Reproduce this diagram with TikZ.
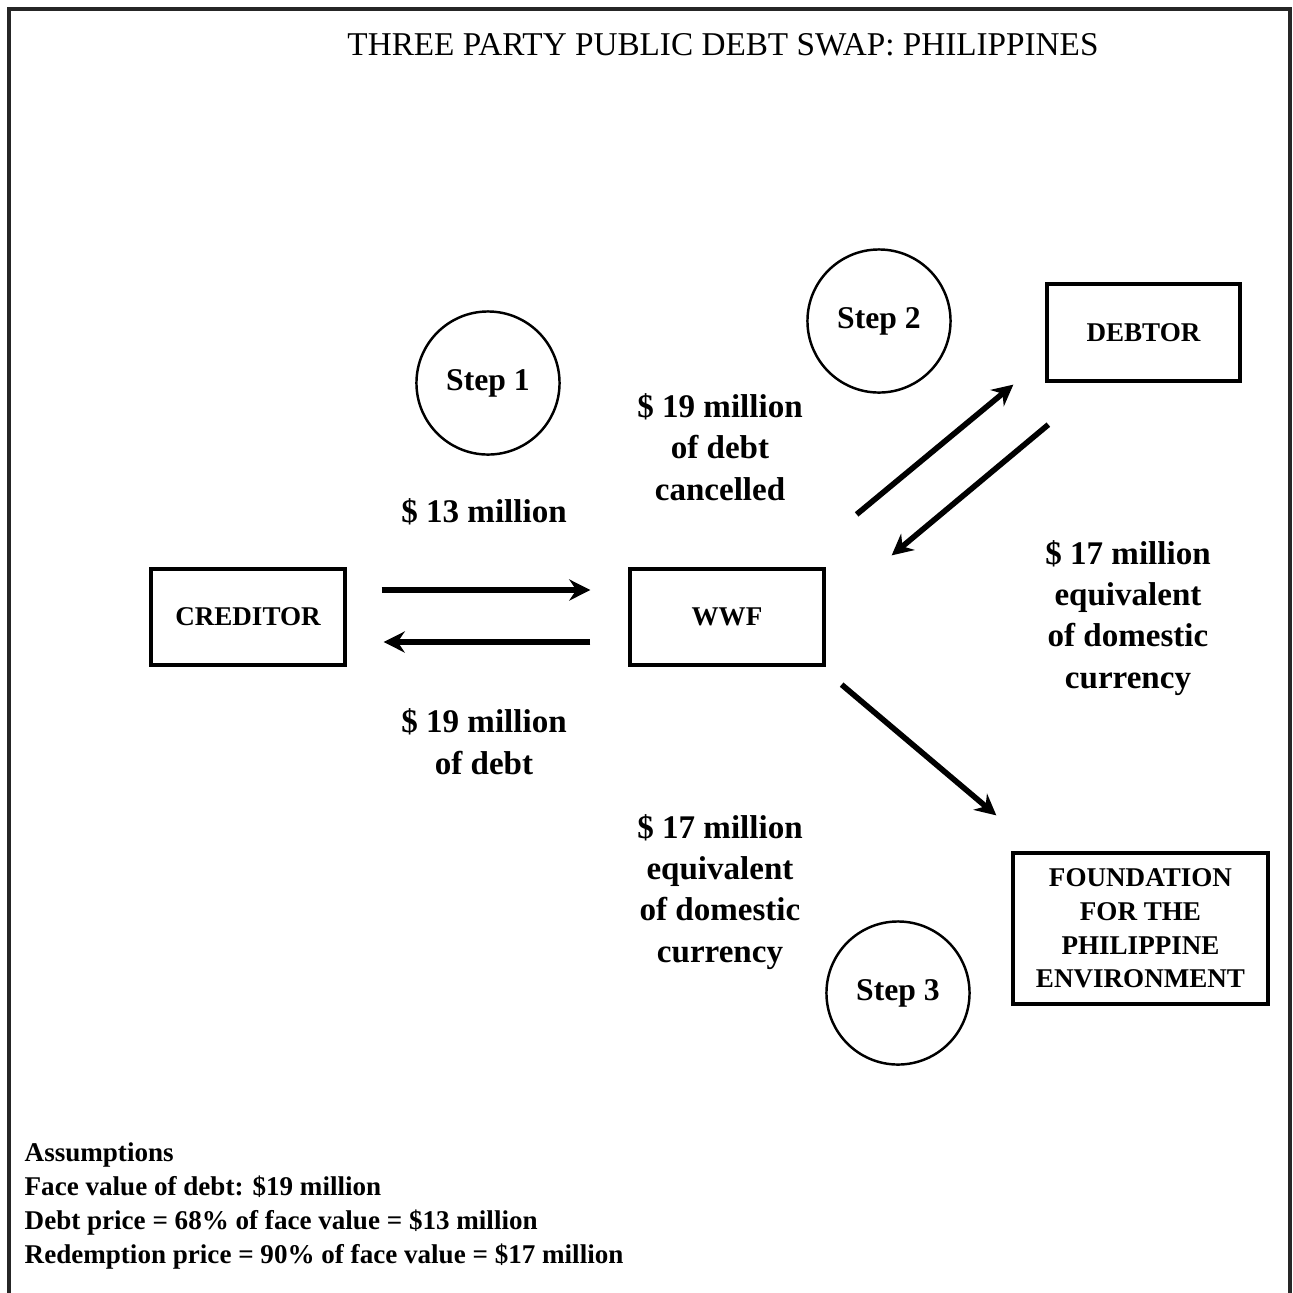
\documentclass[tikz,border=0pt]{standalone}
\usepackage{fontspec}
\setmainfont{Liberation Serif}
\usepackage{tikz}
\usetikzlibrary{arrows.meta,positioning,calc}

\begin{document}
\begin{tikzpicture}[
    x=0.01cm, y=-0.01cm,
    party/.style={rectangle, draw=black, line width=0.9pt, inner sep=2pt,
                  font=\fontsize{7.7}{9.6}\selectfont\bfseries, align=center},
    stepcirc/.style={circle, draw=black, line width=0.7pt, minimum size=1.43cm,
                     inner sep=0pt, font=\fontsize{9}{11}\selectfont\bfseries},
    amount/.style={font=\fontsize{9.4}{11.75}\selectfont\bfseries, align=center,
                   anchor=base, inner sep=0pt},
    arr/.style={-{Stealth[length=6pt, width=6pt, inset=2pt]}, line width=1.6pt, black}
]
    \useasboundingbox (0,0) rectangle (1293,1293);
    \draw[line width=1.2pt, black!85] (9,9) rectangle (1290,1320);

    \node[font=\fontsize{9.45}{11}\selectfont, anchor=base, inner sep=0pt] (title) at (723,55)
        {THREE PARTY PUBLIC DEBT SWAP: PHILIPPINES};

    % parties
    \node[party, minimum width=1.94cm, minimum height=0.96cm] (CRED) at (248,617) {CREDITOR};
    \node[party, minimum width=1.94cm, minimum height=0.96cm] (WWF) at (727,617) {WWF};
    \node[party, minimum width=1.93cm, minimum height=0.97cm] (DEBT) at (1143.5,332.5) {DEBTOR};
    \node[party, minimum width=2.55cm, minimum height=1.51cm] (FPE) at (1140.5,928.5)
        {FOUNDATION\\FOR THE\\PHILIPPINE\\ENVIRONMENT};

    % steps
    \node[stepcirc] (S1) at (488,383) {\raisebox{-2pt}{Step 1}};
    \node[stepcirc] (S2) at (879,321) {\raisebox{-2pt}{Step 2}};
    \node[stepcirc] (S3) at (898,993) {\raisebox{-2pt}{Step 3}};

    % amounts (base = last line)
    \node[amount] (pay) at (484,522) {\$ 13 million};
    \node[amount] (debt) at (484,774) {\$ 19 million\\of debt};
    \node[amount] (canc) at (720,500) {\$ 19 million\\of debt\\cancelled};
    \node[amount] (dom1) at (1128,688) {\$ 17 million\\equivalent\\of domestic\\currency};
    \node[amount] (dom2) at (720,962) {\$ 17 million\\equivalent\\of domestic\\currency};

    \node[font=\fontsize{7.7}{9.6}\selectfont\bfseries, align=left, anchor=base west,
          inner sep=0pt] (assum) at (24,1263)
        {Assumptions\\Face value of debt: \$19 million\\Debt price = 68\% of face value = \$13 million\\Redemption price = 90\% of face value = \$17 million};

    \draw[arr] ($(CRED.east)+(35,-27)$) -- ($(WWF.west)+(-38,-27)$);
    \draw[arr] ($(WWF.west)+(-38,25)$) -- ($(CRED.east)+(37,25)$);
    \draw[arr] ($(WWF.north east)+(31,-53)$) -- ($(DEBT.south west)+(-32,2)$);
    \draw[arr] ($(DEBT.south west)+(3,42)$) -- ($(WWF.north east)+(66,-12)$);
    \draw[arr] ($(WWF.south east)+(16,18)$) -- ($(FPE.north west)+(-15,-36)$);
\end{tikzpicture}
\end{document}
